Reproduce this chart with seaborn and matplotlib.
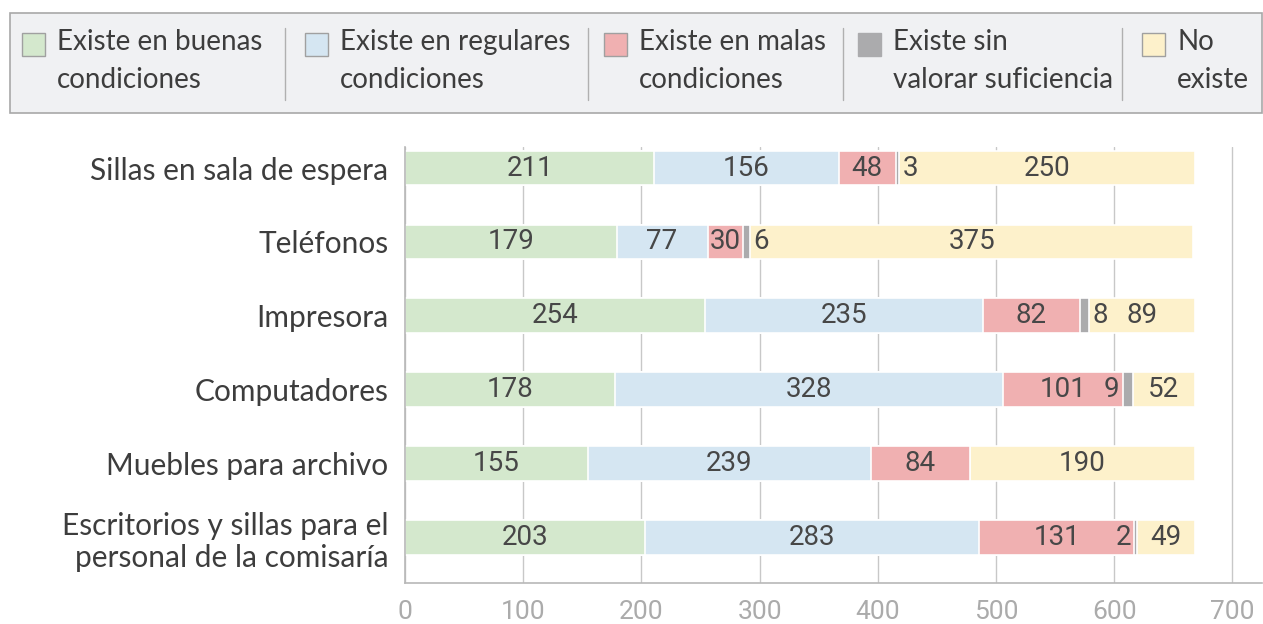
import numpy as np
import pandas as pd
import seaborn as sns
import matplotlib.pyplot as plt
from matplotlib.patches import Rectangle
from matplotlib.lines import Line2D

categories = ["Sillas en sala de espera", "Teléfonos", "Impresora", "Computadores",
              "Muebles para archivo", "Escritorios y sillas para el\npersonal de la comisaría"]
series_names = ["Existe en buenas\ncondiciones", "Existe en regulares\ncondiciones",
                "Existe en malas\ncondiciones", "Existe sin\nvalorar suficiencia", "No\nexiste"]
buenas = [211, 179, 254, 178, 155, 203]
regulares = [156, 77, 235, 328, 239, 283]
malas = [48, 30, 82, 101, 84, 131]
sin_valorar = [3, 6, 8, 9, 0, 2]
no_existe = [250, 375, 89, 52, 190, 49]
xticks = [0, 100, 200, 300, 400, 500, 600, 700]

colors = ["#d4e8cd", "#d5e6f2", "#f0b0b1", "#ababad", "#fdf1cb"]

sns.set_theme(style="white")
plt.rcParams['font.family'] = ['Lato', 'DejaVu Sans']
LABEL_FONT = ['Roboto', 'DejaVu Sans']

W, H = 1263, 624
fig = plt.figure(figsize=(W / 100, H / 100), dpi=100)
ax = fig.add_axes([405 / W, 1 - 583 / H, (1262 - 405) / W, (583 - 147) / H])

vals = np.array([buenas, regulares, malas, sin_valorar, no_existe], dtype=float)
cum = np.cumsum(vals, axis=0)
df = pd.DataFrame({"cat": categories})
for i in range(4, -1, -1):
    df["v"] = cum[i]
    sns.barplot(data=df, x="v", y="cat", orient="h", color=colors[i], width=0.47,
                edgecolor="white", linewidth=1.2, ax=ax, saturation=1)

# value labels
for r in range(len(categories)):
    for i in range(5):
        v = vals[i, r]
        if v <= 0:
            continue
        start = cum[i, r] - v
        end = cum[i, r]
        if v < 15:
            if vals[4, r] > 60:
                x, ha = end + 3, "left"
            else:
                x, ha = start - 3, "right"
        else:
            x, ha = (start + end) / 2, "center"
        ax.text(x, r, f"{int(v)}", ha=ha, va="center", fontsize=20,
                color="#474747", family=LABEL_FONT, fontweight="normal")

ax.set_xlim(0, 725)
ax.set_ylim(5.62, -0.285)
ax.set_xticks(xticks)
ax.set_xticklabels([str(t) for t in xticks], fontsize=19, color="#ababab",
                   family=LABEL_FONT, fontweight="normal")
ax.tick_params(axis="x", length=0, pad=12)
ax.tick_params(axis="y", length=0, pad=12)
for lab in ax.get_yticklabels():
    lab.set_fontsize(21.5)
    lab.set_color("#3d3d3d")
    lab.set_fontweight("normal")
ax.set_xlabel("")
ax.set_ylabel("")
ax.xaxis.grid(True, color="#c8c8c8", linewidth=1)
ax.set_axisbelow(True)
for s in ["top", "right"]:
    ax.spines[s].set_visible(False)
ax.spines["left"].set_color("#b8b8b8")
ax.spines["bottom"].set_color("#b8b8b8")
ax.spines["left"].set_linewidth(1.2)
ax.spines["bottom"].set_linewidth(1.2)

# legend (manual, figure pixel coordinates)
def fx(px):
    return px / W

def fy(py):
    return 1 - py / H

fig.patches.append(Rectangle((fx(10), fy(113)), fx(1262) - fx(10), fy(13) - fy(113),
                             transform=fig.transFigure, facecolor="#f0f1f3",
                             edgecolor="#a8a8a8", linewidth=1.2, zorder=0))
patch_x = [22, 305, 604, 858, 1142]
seps = [285, 588, 843, 1122]
for i, name in enumerate(series_names):
    px = patch_x[i]
    fig.patches.append(Rectangle((fx(px), fy(56)), fx(23), fy(33) - fy(56),
                                 transform=fig.transFigure, facecolor=colors[i],
                                 edgecolor="#a0a0a0" if i != 3 else colors[i],
                                 linewidth=1, zorder=1))
    fig.text(fx(px + 35), fy(61), name, ha="left", va="center", fontsize=20,
             color="#3d3d3d", fontweight="normal", linespacing=1.55)
for sx in seps:
    fig.lines.append(Line2D([fx(sx), fx(sx)], [fy(28), fy(100)], transform=fig.transFigure,
                            color="#b0b0b0", linewidth=1))

fig.savefig("out.png", dpi=100)
